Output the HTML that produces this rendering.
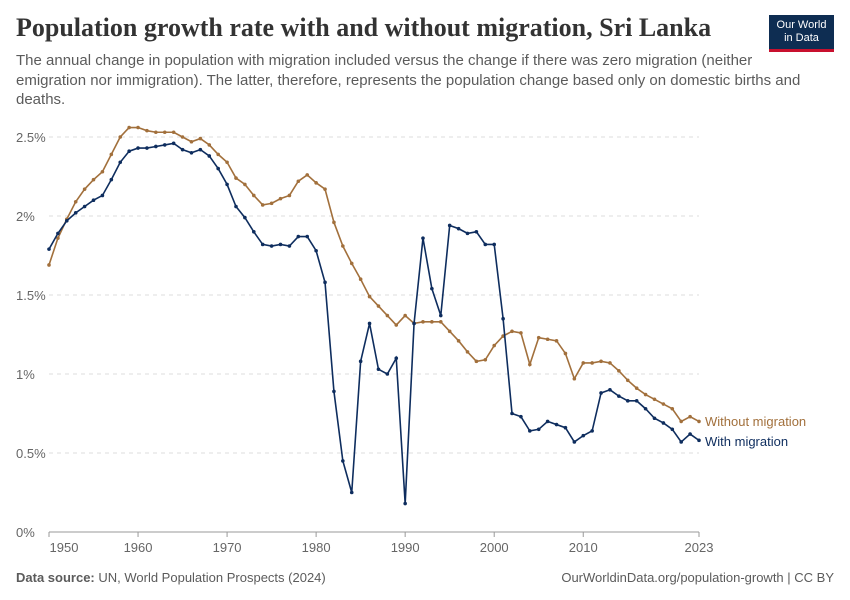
<!DOCTYPE html>
<html><head><meta charset="utf-8">
<style>
body{margin:0;background:#fff;width:850px;height:600px;overflow:hidden;font-family:"Liberation Sans",sans-serif}
.title{position:absolute;left:16px;top:13px;font-family:"Liberation Serif",serif;font-size:26px;color:#333;font-weight:bold;letter-spacing:0px}
.sub{position:absolute;left:16px;top:51px;width:795px;font-size:15px;line-height:19.5px;color:#5b5b5b}
.logo{position:absolute;left:769px;top:15px;width:65px;height:37px;background:#0e2d52;border-bottom:3px solid #c8102e;color:#fff;font-size:11px;line-height:13px;text-align:center;padding-top:4px;box-sizing:border-box}
.foot{position:absolute;top:570px;font-size:13px;color:#5b5b5b}
</style></head><body>
<div class="title">Population growth rate with and without migration, Sri Lanka</div>
<div class="sub">The annual change in population with migration included versus the change if there was zero migration (neither emigration nor immigration). The latter, therefore, represents the population change based only on domestic births and deaths.</div>
<div class="logo">Our World<br>in Data</div>
<svg id="chart" width="850" height="600" style="position:absolute;left:0;top:0"></svg>
<div class="foot" style="left:16px"><b>Data source:</b> UN, World Population Prospects (2024)</div>
<div class="foot" style="right:16px">OurWorldinData.org/population-growth | CC BY</div>
<script>
const years=[];for(let y=1950;y<=2023;y++)years.push(y);
const withoutMig=[1.69,1.86,1.98,2.09,2.17,2.23,2.28,2.39,2.50,2.56,2.56,2.54,2.53,2.53,2.53,2.50,2.47,2.49,2.45,2.39,2.34,2.24,2.20,2.13,2.07,2.08,2.11,2.13,2.22,2.26,2.21,2.17,1.96,1.81,1.70,1.60,1.49,1.43,1.37,1.31,1.37,1.32,1.33,1.33,1.33,1.27,1.21,1.14,1.08,1.09,1.18,1.24,1.27,1.26,1.06,1.23,1.22,1.21,1.13,0.97,1.07,1.07,1.08,1.07,1.02,0.96,0.91,0.87,0.84,0.81,0.78,0.70,0.73,0.70];
const withMig=[1.79,1.89,1.97,2.02,2.06,2.10,2.13,2.23,2.34,2.41,2.43,2.43,2.44,2.45,2.46,2.42,2.40,2.42,2.38,2.30,2.20,2.06,1.99,1.90,1.82,1.81,1.82,1.81,1.87,1.87,1.78,1.58,0.89,0.45,0.25,1.08,1.32,1.03,1.00,1.10,0.18,1.32,1.86,1.54,1.37,1.94,1.92,1.89,1.90,1.82,1.82,1.35,0.75,0.73,0.64,0.65,0.70,0.68,0.66,0.57,0.61,0.64,0.88,0.90,0.86,0.83,0.83,0.78,0.72,0.69,0.65,0.57,0.62,0.58];
const yTicks=[0,0.5,1,1.5,2,2.5];
const yTickLabels=["0%","0.5%","1%","1.5%","2%","2.5%"];
const xTicks=[1950,1960,1970,1980,1990,2000,2010,2023];
const svg=document.getElementById('chart');const NS='http://www.w3.org/2000/svg';
const X=y=>49+(y-1950)*(650/73);
const Y=v=>532-v*158;
function mk(t,a,p){const e=document.createElementNS(NS,t);for(const k in a)e.setAttribute(k,a[k]);(p||svg).appendChild(e);return e;}
yTicks.forEach((v,i)=>{
 const l=mk('line',{x1:49,x2:699,y1:Y(v),y2:Y(v),stroke:v===0?'#999':'#ddd','stroke-dasharray':v===0?'':'4,4'});
 
 const t=mk('text',{x:16,y:Y(v)+5,'font-size':13,fill:'#666','font-family':'Liberation Sans'});t.textContent=yTickLabels[i];
 
});
xTicks.forEach(yr=>{
 mk('line',{x1:X(yr),x2:X(yr),y1:532,y2:537,stroke:'#999'});
 const t=mk('text',{x:yr===1950?64:X(yr),y:552,'font-size':13,fill:'#666','text-anchor':'middle','font-family':'Liberation Sans'});t.textContent=yr;
 
});
function series(vals,col,name,label,ly){
 const g=mk('g',{});
 mk('polyline',{points:vals.map((v,i)=>X(years[i])+','+Y(v)).join(' '),fill:'none',stroke:col,'stroke-width':1.6},g);
 vals.forEach((v,i)=>mk('circle',{cx:X(years[i]),cy:Y(v),r:1.8,fill:col},g));
 const t=mk('text',{x:705,y:ly,'font-size':13,fill:col,'font-family':'Liberation Sans'});t.textContent=label;
 
}
series(withoutMig,'#a2703c','series-without-migration','Without migration',426);
series(withMig,'#0e2d5e','series-with-migration','With migration',446);
</script>
</body></html>
